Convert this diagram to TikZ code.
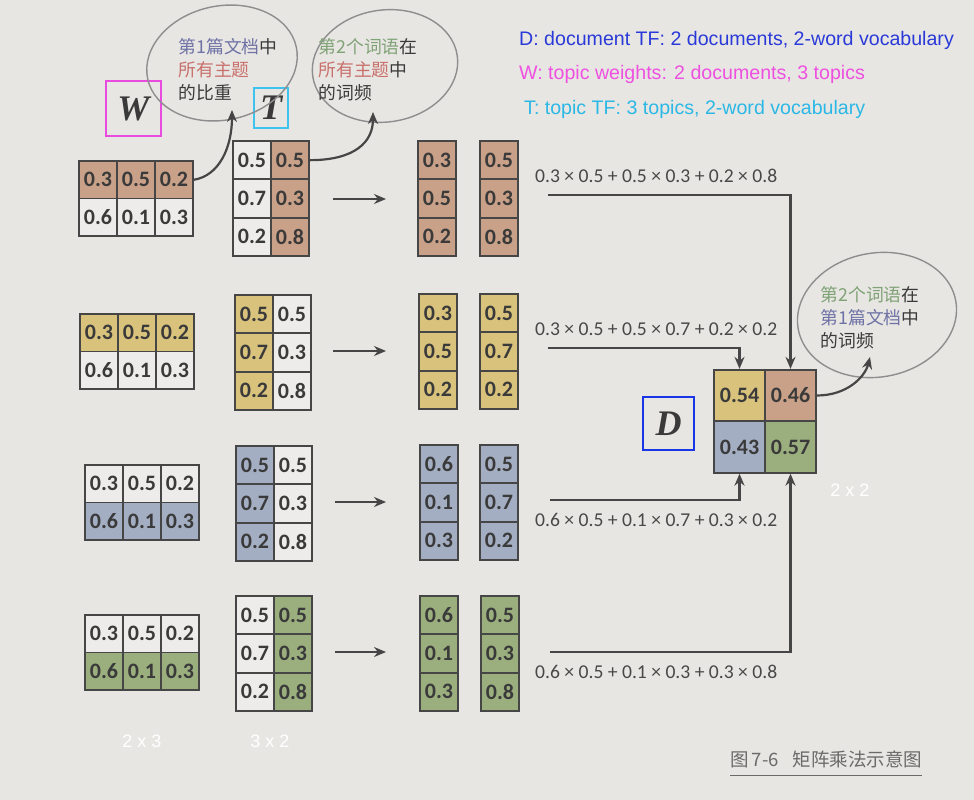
\documentclass[tikz,border=0pt]{standalone}
\usepackage{fontspec}
\setmainfont{Carlito}
\newfontfamily\cjk{Noto Sans CJK SC}
\newfontfamily\lsans{Liberation Sans}
\newfontfamily\lserif{Liberation Serif}
\usetikzlibrary{arrows.meta,shapes.geometric}
\definecolor{bg}{HTML}{E8E6E2}
\definecolor{cbrown}{HTML}{C9A088}
\definecolor{cyellow}{HTML}{D8C27C}
\definecolor{cblue}{HTML}{A4AEC2}
\definecolor{cgreen}{HTML}{9BAF7E}
\definecolor{cwhite}{HTML}{EDECEA}
\definecolor{cline}{HTML}{464646}
\definecolor{ctext}{HTML}{3A3A3A}
\definecolor{ftext}{HTML}{484848}
\definecolor{bubgray}{HTML}{8E8E8E}
\definecolor{cmagenta}{HTML}{E94BDF}
\definecolor{ccyan}{HTML}{3EC3EE}
\definecolor{cdblue}{HTML}{1836E8}
\definecolor{lgblue}{HTML}{2A3AD8}
\definecolor{lgmagenta}{HTML}{EE50E0}
\definecolor{lgcyan}{HTML}{2BB8E6}
\definecolor{cjkblue}{HTML}{6E72A6}
\definecolor{cjkred}{HTML}{C8706C}
\definecolor{cjkgreen}{HTML}{7FA276}
\definecolor{capgray}{HTML}{6A6A6A}
\newcommand\Wmat[5]{%
  \foreach \val [count=\i] in {0.3,0.5,0.2}
    \node[wcell,fill=#4] (W#1a\i) at ({#2+38*\i-19},{#3+18.75}) {\val};
  \foreach \val [count=\i] in {0.6,0.1,0.3}
    \node[wcell,fill=#5] (W#1b\i) at ({#2+38*\i-19},{#3+56.25}) {\val};
}
\newcommand\Tmat[5]{%
  \foreach \val [count=\i] in {0.5,0.7,0.2}
    \node[cellbox,fill=#4] (T#1l\i) at ({#2+19},{#3+38.33*\i-19.17}) {\val};
  \foreach \val [count=\i] in {0.5,0.3,0.8}
    \node[cellbox,fill=#5] (T#1r\i) at ({#2+57},{#3+38.33*\i-19.17}) {\val};
}
\newcommand\Vcol[5]{%
  \foreach \val [count=\i] in {#5}
    \node[cellbox,fill=#4] (#1\i) at ({#2+19},{#3+38.33*\i-19.17}) {\val};
}
\begin{document}
\begin{tikzpicture}[x=1pt,y=-1pt,
  cellbox/.style={draw=cline, line width=1.8pt, minimum width=38pt, minimum height=38.3pt, inner sep=0pt, font=\fontsize{22}{22}\selectfont\bfseries, text=ctext},
  wcell/.style={cellbox, minimum height=37.5pt},
  dcell/.style={cellbox, minimum width=51pt, minimum height=51.5pt},
  formula/.style={anchor=west, inner sep=0pt, font=\fontsize{19.6}{19.6}\selectfont, text=ftext},
  flow/.style={draw=cline, line width=2.5pt, -{Stealth[length=12pt,width=10pt]}},
  midarrow/.style={draw=cline, line width=2.5pt, -{Stealth[length=12pt,width=10pt]}},
  bubble/.style={draw=bubgray, line width=1.4pt},
  bubarrow/.style={draw=cline, line width=2.2pt, -{Stealth[length=12pt,width=10pt]}},
  bubtext/.style={align=left, inner sep=0pt, font=\cjk\fontsize{17.8}{23}\selectfont, text=ctext},
  labelbox/.style={line width=2.8pt, inner sep=0pt, font=\lserif\bfseries\itshape\fontsize{36}{36}\selectfont, text=ctext},
  legend/.style={anchor=west, inner sep=0pt, font=\lsans\fontsize{19.6}{19.6}\selectfont},
  dimlabel/.style={text=white, inner sep=0pt, font=\lsans\fontsize{18}{18}\selectfont},
  capfont/.style={anchor=west, inner sep=0pt, text=capgray, font=\cjk\fontsize{18.5}{18.5}\selectfont}
]
\fill[bg] (0,0) rectangle (974,800);
\useasboundingbox (0,0) rectangle (974,800);

% row 1
\Wmat{1}{79}{161}{cbrown}{cwhite}
\Tmat{1}{233}{141}{cwhite}{cbrown}
\Vcol{V1a}{418}{141}{cbrown}{0.3,0.5,0.2}
\Vcol{V1b}{480}{141}{cbrown}{0.5,0.3,0.8}
% row 2
\Wmat{2}{80}{314}{cyellow}{cwhite}
\Tmat{2}{235}{295}{cyellow}{cwhite}
\Vcol{V2a}{419}{294}{cyellow}{0.3,0.5,0.2}
\Vcol{V2b}{480}{294}{cyellow}{0.5,0.7,0.2}
% row 3
\Wmat{3}{85}{465}{cwhite}{cblue}
\Tmat{3}{236}{446}{cblue}{cwhite}
\Vcol{V3a}{420}{445}{cblue}{0.6,0.1,0.3}
\Vcol{V3b}{480}{445}{cblue}{0.5,0.7,0.2}
% row 4
\Wmat{4}{85}{615}{cwhite}{cgreen}
\Tmat{4}{236}{596}{cwhite}{cgreen}
\Vcol{V4a}{420}{596}{cgreen}{0.6,0.1,0.3}
\Vcol{V4b}{481}{596}{cgreen}{0.5,0.3,0.8}

% middle arrows
\coordinate (m1s) at (333,199); \coordinate (m1e) at (386,199);
\coordinate (m2s) at (333,351); \coordinate (m2e) at (386,351);
\coordinate (m3s) at (335,502); \coordinate (m3e) at (386,502);
\coordinate (m4s) at (335,652); \coordinate (m4e) at (386,652);
\foreach \k in {1,2,3,4} \draw[midarrow] (m\k s) -- (m\k e);

% D matrix
\node[dcell,fill=cyellow] (D11) at (739.5,395.5) {0.54};
\node[dcell,fill=cbrown]  (D12) at (790.5,395.5) {0.46};
\node[dcell,fill=cblue]   (D21) at (739.5,447) {0.43};
\node[dcell,fill=cgreen]  (D22) at (790.5,447) {0.57};

% flows
\coordinate (f1s) at (548,195);
\coordinate (f2s) at (548,348);
\coordinate (f3s) at (550,500);
\coordinate (f4s) at (550,652);
\draw[flow] (f1s) -| (D12.north);
\draw[flow] (f2s) -| (D11.north);
\draw[flow] (f3s) -| (D21.south);
\draw[flow] (f4s) -| (D22.south);

\node[formula] (F1) at (535,176) {0.3 × 0.5 + 0.5 × 0.3 + 0.2 × 0.8};
\node[formula] (F2) at (535,329) {0.3 × 0.5 + 0.5 × 0.7 + 0.2 × 0.2};
\node[formula] (F3) at (535,520) {0.6 × 0.5 + 0.1 × 0.7 + 0.3 × 0.2};
\node[formula] (F4) at (535,672) {0.6 × 0.5 + 0.1 × 0.3 + 0.3 × 0.8};

% label boxes
\node[labelbox, draw=cmagenta, minimum width=55pt, minimum height=55pt] (Wlab) at (133.5,108.5) {W};
\node[labelbox, draw=ccyan, minimum width=34pt, minimum height=40pt] (Tlab) at (271,108) {T};
\node[labelbox, draw=cdblue, minimum width=51pt, minimum height=53pt] (Dlab) at (668.5,423.5) {D};

% bubbles
\draw[bubble, rotate around={12:(222,63)}] (222,63) ellipse [x radius=76, y radius=57];
\draw[bubble, rotate around={8:(385,66)}] (385,66) ellipse [x radius=73, y radius=56];
\draw[bubble, rotate around={10:(877,315)}] (877,315) ellipse [x radius=80, y radius=62];
\node[bubtext] (B1) at (228,70) {\textcolor{cjkblue}{第1篇文档}中\\\textcolor{cjkred}{所有主题}\\的比重};
\node[bubtext] (B2) at (368,70) {\textcolor{cjkgreen}{第2个词语}在\\\textcolor{cjkred}{所有主题}中\\的词频};
\node[bubtext] (B3) at (870,318) {\textcolor{cjkgreen}{第2个词语}在\\\textcolor{cjkblue}{第1篇文档}中\\的词频};
\coordinate (b1tip) at (232,110);
\coordinate (b2tip) at (373,112);
\coordinate (b3tip) at (870,357);
\draw[bubarrow] (W1a3.east) .. controls +(25,-4) and +(0,38) .. (b1tip);
\draw[bubarrow] (T1r1.east) .. controls +(45,0) and +(0,30) .. (b2tip);
\draw[bubarrow] (D12.east) .. controls +(30,0) and +(-5,20) .. (b3tip);

% legend
\node[legend, text=lgblue] (L1) at (519,40) {D: document TF: 2 documents, 2-word vocabulary};
\node[legend, text=lgmagenta] (L2) at (519,74) {W: topic weights: 2 documents, 3 topics};
\node[legend, text=lgcyan] (L3) at (524,109) {T: topic TF: 3 topics, 2-word vocabulary};

% dimension labels
\node[dimlabel] (dW) at (142,741) {2 x 3};
\node[dimlabel] (dT) at (270,741) {3 x 2};
\node[dimlabel] (dD) at (850,490) {2 x 2};

% caption
\node[capfont] (cap) at (730,759) {图\,7-6\hspace{14pt}矩阵乘法示意图};
\draw[capgray, line width=1pt] (730,775) -- (922,775);
\end{tikzpicture}
\end{document}
